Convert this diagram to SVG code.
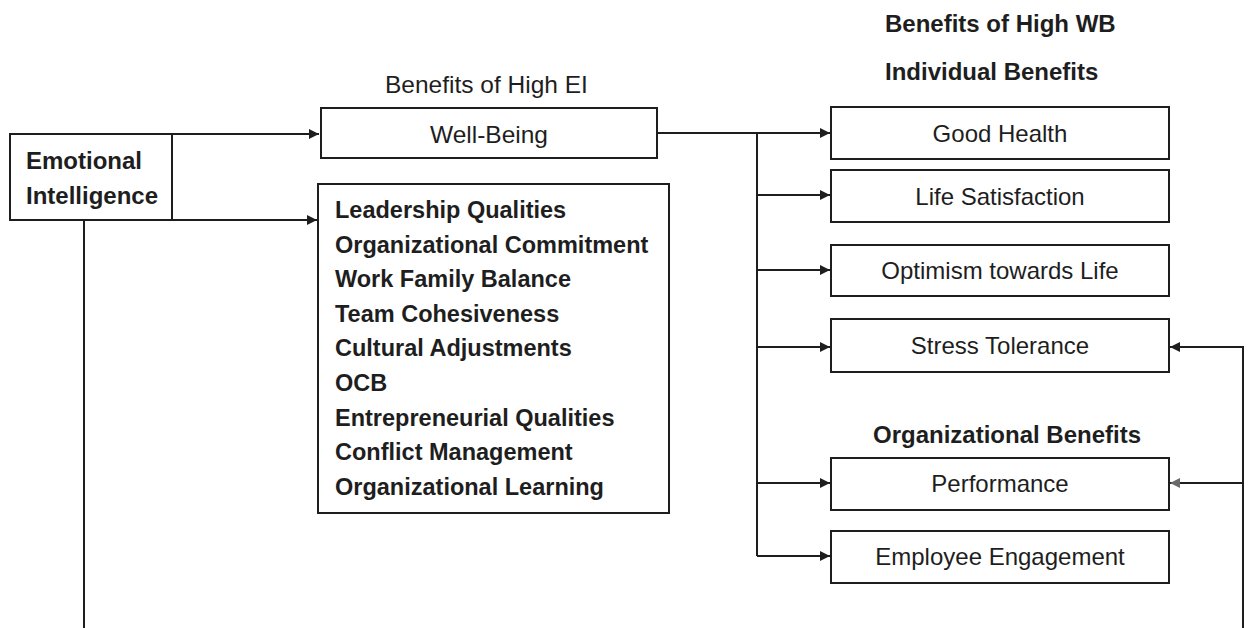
<svg xmlns="http://www.w3.org/2000/svg" width="1248" height="628" viewBox="0 0 1248 628">
  <style>
    .box { fill: #ffffff; stroke: #1e1e1e; stroke-width: 2; }
    .wire { fill: none; stroke: #1e1e1e; stroke-width: 2; }
    .t { font-family: "Liberation Sans", Arial, sans-serif; fill: #1e1e1e; }
    .hd { font-size: 24px; font-weight: bold; }
    .lst { font-size: 23.5px; font-weight: bold; }
    .reg { font-size: 24px; text-anchor: middle; }
  </style>
  <defs>
    <marker id="arrow" viewBox="0 0 10 10" refX="10" refY="5" markerWidth="12" markerHeight="10" markerUnits="userSpaceOnUse" orient="auto">
      <path d="M0,0 L10,5 L0,10 Z" fill="#1e1e1e"/>
    </marker>
    <marker id="arrowGrey" viewBox="0 0 10 10" refX="10" refY="5" markerWidth="12" markerHeight="10" markerUnits="userSpaceOnUse" orient="auto">
      <path d="M0,0 L10,5 L0,10 Z" fill="#6a6a6a"/>
    </marker>
  </defs>
  <rect width="1248" height="628" fill="#ffffff"/>

  <!-- section headings -->
  <text class="t" x="385" y="93" font-size="24.5">Benefits of High EI</text>
  <text class="t hd" x="885" y="32">Benefits of High WB</text>
  <text class="t hd" x="885" y="80">Individual Benefits</text>
  <text class="t hd" x="873" y="443">Organizational Benefits</text>

  <!-- connectors -->
  <g id="connectors">
    <path class="wire" d="M172,134 H319" marker-end="url(#arrow)"/>
    <path class="wire" d="M172,220 H317" marker-end="url(#arrow)"/>
    <path class="wire" d="M84,220 V628"/>
    <path class="wire" d="M657,133 H830" marker-end="url(#arrow)"/>
    <path class="wire" d="M757,133 V556"/>
    <path class="wire" d="M757,195 H830" marker-end="url(#arrow)"/>
    <path class="wire" d="M757,270 H830" marker-end="url(#arrow)"/>
    <path class="wire" d="M757,347 H830" marker-end="url(#arrow)"/>
    <path class="wire" d="M757,483 H830" marker-end="url(#arrow)"/>
    <path class="wire" d="M757,556 H830" marker-end="url(#arrow)"/>
    <path class="wire" d="M1243,628 V347 H1170" marker-end="url(#arrow)"/>
    <path class="wire" d="M1243,483 H1170" marker-end="url(#arrowGrey)"/>
  </g>

  <!-- Emotional Intelligence -->
  <g id="node-ei">
    <rect class="box" x="10" y="134" width="162" height="86"/>
    <text class="t hd" x="26" y="169">Emotional</text>
    <text class="t hd" x="26" y="204">Intelligence</text>
  </g>

  <!-- Well-Being -->
  <g id="node-wellbeing">
    <rect class="box" x="321" y="108" width="336" height="50"/>
    <text class="t" x="489" y="143" font-size="24.5" text-anchor="middle">Well-Being</text>
  </g>

  <!-- Other benefits of high EI -->
  <g id="node-ei-benefits">
    <rect class="box" x="318" y="184" width="351" height="329"/>
    <text class="t lst" x="335" y="218">Leadership Qualities</text>
    <text class="t lst" x="335" y="252.6">Organizational Commitment</text>
    <text class="t lst" x="335" y="287.2">Work Family Balance</text>
    <text class="t lst" x="335" y="321.8">Team Cohesiveness</text>
    <text class="t lst" x="335" y="356.4">Cultural Adjustments</text>
    <text class="t lst" x="335" y="391">OCB</text>
    <text class="t lst" x="335" y="425.6">Entrepreneurial Qualities</text>
    <text class="t lst" x="335" y="460.2">Conflict Management</text>
    <text class="t lst" x="335" y="494.8">Organizational Learning</text>
  </g>

  <!-- Individual benefits of high WB -->
  <g id="node-good-health">
    <rect class="box" x="831" y="107" width="338" height="52"/>
    <text class="t reg" x="1000" y="142">Good Health</text>
  </g>
  <g id="node-life-satisfaction">
    <rect class="box" x="831" y="170" width="338" height="52"/>
    <text class="t reg" x="1000" y="205">Life Satisfaction</text>
  </g>
  <g id="node-optimism">
    <rect class="box" x="831" y="245" width="338" height="51"/>
    <text class="t reg" x="1000" y="279">Optimism towards Life</text>
  </g>
  <g id="node-stress-tolerance">
    <rect class="box" x="831" y="319" width="338" height="53"/>
    <text class="t reg" x="1000" y="354">Stress Tolerance</text>
  </g>

  <!-- Organizational benefits of high WB -->
  <g id="node-performance">
    <rect class="box" x="831" y="458" width="338" height="52"/>
    <text class="t reg" x="1000" y="492">Performance</text>
  </g>
  <g id="node-engagement">
    <rect class="box" x="831" y="531" width="338" height="52"/>
    <text class="t reg" x="1000" y="565">Employee Engagement</text>
  </g>
</svg>
